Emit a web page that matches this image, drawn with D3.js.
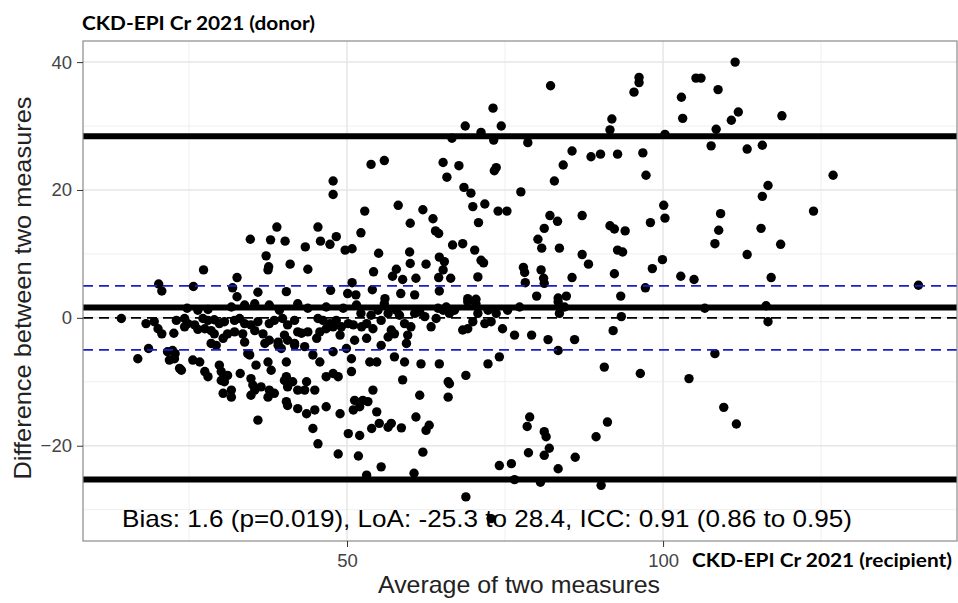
<!DOCTYPE html>
<html>
<head>
<meta charset="utf-8">
<script src="https://cdn.jsdelivr.net/npm/d3@7"></script>
<style>
  body { margin: 0; background: #fff; }
  .tick text { font-family: "Liberation Sans", Arial, sans-serif; font-size: 18.5px; fill: #444; }
  .tick line { stroke: #333; }
</style>
</head>
<body>
<div class="chart"></div>
<script>
// sizes
var width = 958;
var height = 603;
var panel = { left: 83, top: 41, right: 957, bottom: 541 };

// Bland-Altman summary values
var bias = 1.6;
var loaLower = -25.3;
var loaUpper = 28.4;
var bandLimits = [-5, 5];

// axes
var xDomain = [8.23, 146.5];
var yDomain = [-34.9, 43.3];
var xTicks = [50, 100];
var xMinor = [25, 75, 125];
var yTicks = [-20, 0, 20, 40];
var yMinor = [-30, -10, 10, 30];

// average of two measures (x) and difference (y)
var avgHigh = [111.4, 105.2, 106.0, 108.7, 102.9, 103.1, 111.9, 110.8, 118.8, 108.4, 100.3, 107.6, 113.3, 115.7, 126.9, 116.6, 115.7, 123.8, 109.1, 108.8, 115.5, 108.2, 118.6, 113.3, 102.8, 104.9, 117.1, 140.4, 100.1, 100.3,
  106.6, 116.3, 116.6, 108.2, 104.1, 109.6, 111.6];
var diffHigh = [40.0, 37.5, 37.5, 35.7, 34.5, 31.2, 32.2, 30.9, 31.6, 29.5, 28.7, 26.9, 26.4, 27.0, 22.3, 20.7, 19.0, 16.7, 16.3, 13.7, 14.0, 11.6, 11.5, 9.9, 6.5, 6.0, 6.3, 5.1, 17.6, 15.6,
  1.5, 1.9, -0.6, -5.6, -9.5, -14.0, -16.6];

var avgMid = [82.2, 96.2, 96.2, 95.4, 73.1, 68.7, 74.4, 71.2, 66.6, 73.2, 78.6, 91.9, 91.6, 55.9, 65.2, 67.7, 65.8, 73.6, 73.3, 85.6,
  84.2, 82.8, 88.6, 90.1, 92.8, 96.8, 97.3, 77.5, 68.5, 69.6, 58.1, 62.0, 63.6, 60.0, 69.9, 71.8, 73.9, 75.3, 70.8, 64.0,
  64.5, 82.1, 83.3, 81.2, 87.2, 91.6, 92.3, 94.0, 98.0, 66.7, 68.3, 70.2, 59.9, 55.0, 80.2, 80.8, 83.6, 92.8, 93.6, 87.2,
  88.2, 99.9, 98.3, 92.3, 64.6, 65.4, 60.0, 62.5, 71.2, 71.6, 65.2, 64.5, 66.4, 70.7, 57.8, 57.2, 58.8, 60.9, 77.9, 78.1,
  78.2, 80.7, 81.1, 81.2, 85.6, 97.2, 64.6, 58.5, 60.7, 93.3, 80.0, 83.4, 84.7, 69.1, 70.4, 56.0];
var diffMid = [36.3, 37.6, 36.8, 35.3, 32.8, 30.0, 30.0, 29.0, 28.1, 27.8, 27.4, 31.1, 29.4, 24.6, 24.3, 23.8, 22.0, 23.5, 23.0, 26.1,
  23.9, 21.4, 25.2, 25.6, 25.6, 25.8, 22.3, 19.7, 20.4, 19.5, 17.6, 16.9, 15.5, 14.8, 17.4, 17.8, 16.7, 16.7, 14.9, 13.6,
  13.2, 16.0, 15.1, 14.0, 16.0, 14.4, 13.9, 13.6, 14.9, 11.4, 11.6, 10.6, 10.3, 10.1, 12.3, 10.9, 10.9, 10.6, 10.3, 9.9,
  8.4, 9.1, 7.7, 6.9, 9.5, 8.8, 8.5, 8.4, 9.0, 8.6, 7.5, 6.3, 6.2, 6.4, 7.6, 6.5, 6.0, 6.2, 7.9, 7.1,
  5.5, 7.5, 6.2, 5.4, 6.3, 4.7, 4.2, 3.8, 3.6, 3.4, 3.4, 3.1, 3.4, 3.0, 2.9, 3.0];

var avgUpperLeft = [53.8, 47.8, 47.8, 52.8, 38.9, 45.4, 34.7, 37.9, 40.2, 45.8, 47.3, 48.3, 52.2, 49.7, 50.8, 43.4, 37.2, 37.6,
  37.5, 41.0, 43.8, 54.2, 27.3, 32.6, 20.2, 20.7, 25.7, 31.9, 32.6, 35.9, 40.4, 47.4, 50.8, 50.1, 51.4, 54.0];
var diffUpperLeft = [24.0, 21.4, 19.3, 16.7, 14.2, 14.2, 12.3, 12.2, 12.0, 12.0, 11.5, 12.7, 13.3, 10.6, 10.8, 11.1, 9.7, 8.0,
  7.5, 8.4, 7.6, 7.2, 7.5, 6.3, 5.3, 4.2, 4.9, 4.7, 3.3, 4.0, 4.1, 4.3, 5.5, 3.8, 3.6, 4.4];

var avgLowerLeft = [24.7, 26.4, 28.0, 31.7, 33.8, 35.4, 37.7, 39.3, 42.2,
  14.3, 18.2, 19.5, 23.0, 24.3, 24.8, 25.9, 27.2, 28.0, 29.0, 29.8, 30.6, 32.2, 33.0, 33.8, 34.8, 35.9, 37.7, 38.5, 39.8, 40.6, 41.7,
  20.1, 20.7, 22.6, 24.3, 26.4, 27.5, 28.5, 29.0, 30.4, 31.1, 32.2, 33.5, 33.8, 35.4, 36.7, 37.7, 39.1, 40.1, 40.6, 41.7, 42.2,
  16.9, 18.6, 21.6, 22.4, 22.8, 28.5, 29.3, 34.3, 37.0, 39.1, 39.6, 41.7,
  21.9, 22.7, 23.5, 23.8, 25.6, 26.7, 27.5, 28.0, 29.8, 30.1, 30.6, 31.1, 33.1, 34.6, 35.6, 37.5, 38.0, 40.4, 40.4, 41.4,
  30.1, 30.6, 31.7, 30.4, 31.7, 34.8, 35.1, 35.4, 36.4, 37.7, 37.5, 38.5, 34.8, 40.1, 40.6, 40.4, 42.2, 40.6, 42.2, 35.9];
var diffLowerLeft = [1.5, 1.2, 1.3, 1.7, 2.0, 2.2, 2.0, 1.2, 2.2,
  -0.1, -0.9, -0.6, -0.4, -0.1, -0.9, -1.1, -0.1, -0.4, -0.3, -0.9, -0.6, -0.4, -0.1, -0.9, -1.1, -0.6, -0.9, -0.4, -0.1, -1.1, -0.4,
  -1.7, -2.5, -2.4, -1.4, -1.8, -1.7, -2.0, -2.5, -3.2, -2.5, -2.2, -2.5, -3.8, -2.0, -2.5, -3.5, -3.8, -2.7, -3.5, -4.0, -2.2,
  -6.4, -4.8, -5.3, -5.1, -5.6, -4.0, -4.3, -5.6, -4.0, -4.3, -4.8, -4.3,
  -6.6, -6.4, -7.9, -8.2, -6.6, -6.9, -8.4, -9.2, -7.4, -8.4, -9.2, -9.0, -8.7, -5.8, -7.4, -6.9, -8.2, -6.9, -9.2, -10.0,
  -9.8, -10.0, -11.3, -11.8, -12.4, -9.5, -10.5, -11.3, -10.8, -11.3, -12.4, -11.8, -12.1, -9.8, -10.8, -13.1, -11.3, -13.7, -14.2, -16.0];

var avgCentre = [46.7, 49.4, 51.5, 43.8, 52.2, 53.8,
  45.4, 46.2, 47.3, 48.3, 49.1, 50.2, 51.0, 52.3, 53.1, 54.1,
  42.8, 43.8, 45.7, 46.7, 47.8, 48.9, 51.2, 53.1, 45.2, 43.3, 49.9,
  44.6, 45.7, 47.8, 50.7, 53.6, 54.7,
  46.7, 47.8, 48.6, 50.7, 43.6, 44.9, 43.3,
  54.1, 52.5, 51.2, 52.0, 51.0, 48.9, 46.7, 43.6, 44.9, 53.3, 54.7,
  44.6, 50.2, 52.0, 53.9, 45.4, 48.6, 51.8, 53.1, 55.1];
var diffCentre = [1.7, 1.5, 2.0, 1.5, 0.7, 0.4,
  -0.1, -0.4, -0.9, -0.4, -1.4, -0.9, -1.1, -1.4, -0.9, -1.7,
  -2.4, -2.2, -2.2, -1.7, -1.4, -2.7, -3.5, -3.2, -3.2, -4.5, -4.8,
  -5.8, -6.9, -5.3, -6.4, -6.9, -6.9,
  -9.2, -8.7, -9.2, -8.4, -10.0, -11.3, -11.3,
  -11.3, -12.9, -12.9, -13.9, -14.4, -15.0, -13.9, -15.0, -14.4, -13.1, -14.7,
  -17.3, -18.1, -18.4, -17.3, -19.7, -21.3, -21.6, -24.6, -16.5];

var avgRight = [55.9, 55.4, 57.8, 58.3, 59.1, 60.1, 60.7, 57.0, 56.5, 57.5, 59.6, 59.4, 55.4, 63.3, 65.2, 66.2, 68.3, 69.1, 69.1, 70.4,
  69.9, 71.8, 72.8, 73.6, 74.6, 76.5, 77.3, 79.2, 81.8, 83.4, 83.6, 83.4, 86.0, 93.4, 92.1, 90.7, 96.4,
  57.5, 59.1, 61.7, 64.6, 68.8, 72.3, 74.1, 58.8, 66.0, 66.2, 66.0, 61.5,
  56.5, 57.0, 58.6, 60.9, 62.5, 63.0, 62.0, 55.4, 60.6, 68.8, 72.8,
  74.1, 76.0, 76.5, 78.9, 78.5, 81.2, 81.5, 82.0, 81.2, 78.7, 83.4, 80.6, 86.1, 89.4, 91.2, 90.2,
  54.9, 56.5, 61.5, 62.3, 64.4, 65.7, 67.0, 70.7, 72.3, 75.4, 84.4, 64.1];
var diffRight = [2.2, -0.4, 1.2, 0.4, -0.9, -1.4, 0.7, -1.9, -3.0, -2.5, -2.7, -4.0, -4.3, -1.4, 1.2, 0.7, -1.9, -1.7, 2.5, 2.2,
  -0.6, -0.9, -0.6, 0.7, -1.7, -2.7, 1.7, -2.7, -3.4, 2.5, 0.7, -5.1, -3.4, 0.2, -2.0, -7.7, -8.7,
  -6.1, -6.9, -7.2, -7.2, -9.0, -7.2, -6.1, -9.7, -10.0, -10.3, -12.4, -12.1,
  -17.1, -16.5, -17.2, -15.5, -17.6, -16.8, -21.0, -23.3, -24.3, -28.0, -31.4,
  -23.1, -22.8, -25.3, -15.5, -17.0, -17.8, -18.6, -20.4, -21.5, -21.1, -23.6, -25.7, -21.8, -18.6, -16.3, -26.2,
  1.2, 0.7, 0.9, 0.2, 1.5, 1.7, 1.2, 0.7, 1.2, 1.2, 1.7, -0.1];

var avgAll = avgHigh.concat(avgMid, avgUpperLeft, avgLowerLeft, avgCentre, avgRight);
var diffAll = diffHigh.concat(diffMid, diffUpperLeft, diffLowerLeft, diffCentre, diffRight);
var points = avgAll.map((d, i) => ({ avg: d, diff: diffAll[i] }));

var svg = d3.select(".chart")
            .append("svg")
            .attr("width", width)
            .attr("height", height);

var xScale = d3.scaleLinear().domain(xDomain).range([panel.left, panel.right]);
var yScale = d3.scaleLinear().domain(yDomain).range([panel.bottom, panel.top]);

// panel background
svg.append("rect")
   .attr("x", panel.left).attr("y", panel.top)
   .attr("width", panel.right - panel.left)
   .attr("height", panel.bottom - panel.top)
   .attr("fill", "#fff");

// grid
var grid = svg.append("g").attr("class", "grid");
grid.selectAll(".vminor").data(xMinor).enter().append("line")
    .attr("x1", d => xScale(d)).attr("x2", d => xScale(d))
    .attr("y1", panel.top).attr("y2", panel.bottom)
    .attr("stroke", "#efefef").attr("stroke-width", 1);
grid.selectAll(".hminor").data(yMinor).enter().append("line")
    .attr("y1", d => yScale(d)).attr("y2", d => yScale(d))
    .attr("x1", panel.left).attr("x2", panel.right)
    .attr("stroke", "#efefef").attr("stroke-width", 1);
grid.selectAll(".vmajor").data(xTicks).enter().append("line")
    .attr("x1", d => xScale(d)).attr("x2", d => xScale(d))
    .attr("y1", panel.top).attr("y2", panel.bottom)
    .attr("stroke", "#e6e6e6").attr("stroke-width", 1.5);
grid.selectAll(".hmajor").data(yTicks).enter().append("line")
    .attr("y1", d => yScale(d)).attr("y2", d => yScale(d))
    .attr("x1", panel.left).attr("x2", panel.right)
    .attr("stroke", "#e6e6e6").attr("stroke-width", 1.5);

// bias text (behind points)
svg.append("text")
   .attr("x", 122).attr("y", 527)
   .attr("textLength", 730).attr("lengthAdjust", "spacingAndGlyphs")
   .style("font-family", "'Liberation Sans', Arial, sans-serif")
   .style("font-size", "24px")
   .attr("fill", "#000")
   .text("Bias: 1.6 (p=0.019), LoA: -25.3 to 28.4, ICC: 0.91 (0.86 to 0.95)");

// points
svg.append("g")
   .selectAll("circle")
   .data(points)
   .enter()
   .append("circle")
   .attr("cx", d => xScale(d.avg))
   .attr("cy", d => yScale(d.diff))
   .attr("r", 4.7)
   .attr("fill", "#000");

// reference lines
svg.selectAll(".band").data(bandLimits).enter().append("line")
   .attr("x1", panel.left).attr("x2", panel.right)
   .attr("y1", d => yScale(d)).attr("y2", d => yScale(d))
   .attr("stroke", "#1d1dcc").attr("stroke-width", 1.8)
   .attr("stroke-dasharray", "10,6");
svg.append("line")
   .attr("x1", panel.left).attr("x2", panel.right)
   .attr("y1", yScale(0)).attr("y2", yScale(0))
   .attr("stroke", "#000").attr("stroke-width", 1.6)
   .attr("stroke-dasharray", "10,6");
svg.selectAll(".loa").data([loaLower, bias, loaUpper]).enter().append("line")
   .attr("x1", panel.left).attr("x2", panel.right)
   .attr("y1", d => yScale(d)).attr("y2", d => yScale(d))
   .attr("stroke", "#000").attr("stroke-width", 6);

// panel border
svg.append("rect")
   .attr("x", panel.left).attr("y", panel.top)
   .attr("width", panel.right - panel.left)
   .attr("height", panel.bottom - panel.top)
   .attr("fill", "none")
   .attr("stroke", "#8a8a8a").attr("stroke-width", 1.2);

// axes
var xAxis = d3.axisBottom(xScale).tickValues(xTicks).tickSize(6).tickPadding(7);
var yAxis = d3.axisLeft(yScale).tickValues(yTicks).tickSize(6).tickPadding(5);
svg.append("g")
   .attr("id", "x-axis")
   .attr("transform", "translate(0," + panel.bottom + ")")
   .call(xAxis)
   .call(g => g.select(".domain").remove());
svg.append("g")
   .attr("id", "y-axis")
   .attr("transform", "translate(" + panel.left + ",0)")
   .call(yAxis)
   .call(g => g.select(".domain").remove());

// titles
svg.append("text")
   .attr("x", 82).attr("y", 30)
   .attr("textLength", 233).attr("lengthAdjust", "spacingAndGlyphs")
   .style("font-family", "Lato, sans-serif").style("font-weight", "bold")
   .style("font-size", "19.5px")
   .text("CKD-EPI Cr 2021 (donor)");
svg.append("text")
   .attr("x", 692).attr("y", 567)
   .attr("textLength", 260).attr("lengthAdjust", "spacingAndGlyphs")
   .style("font-family", "Lato, sans-serif").style("font-weight", "bold")
   .style("font-size", "19px")
   .text("CKD-EPI Cr 2021 (recipient)");
svg.append("text")
   .attr("x", 519).attr("y", 593)
   .attr("text-anchor", "middle")
   .attr("textLength", 282).attr("lengthAdjust", "spacingAndGlyphs")
   .style("font-family", "'Liberation Sans', Arial, sans-serif")
   .style("font-size", "24px")
   .attr("fill", "#222")
   .text("Average of two measures");
svg.append("text")
   .attr("transform", "translate(31,288) rotate(-90)")
   .attr("text-anchor", "middle")
   .attr("textLength", 383).attr("lengthAdjust", "spacingAndGlyphs")
   .style("font-family", "'Liberation Sans', Arial, sans-serif")
   .style("font-size", "24px")
   .attr("fill", "#222")
   .text("Difference between two measures");
</script>
</body>
</html>
